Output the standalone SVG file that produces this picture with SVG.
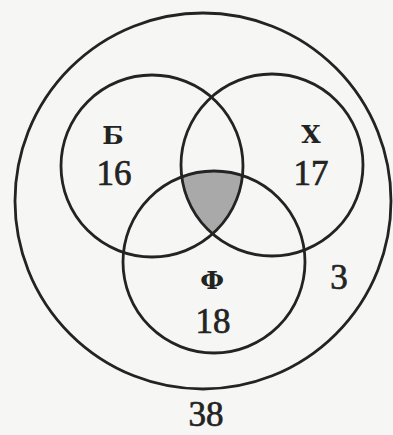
<svg xmlns="http://www.w3.org/2000/svg" width="393" height="435" viewBox="0 0 393 435">
<style>
.c{fill:none;stroke:#232323;stroke-width:2.8}
.d{font-family:"Liberation Serif","DejaVu Serif",serif;font-size:35px;fill:#232323;stroke:#232323;stroke-width:0.7;text-anchor:middle}
.l{font-family:"DejaVu Serif","Liberation Serif",serif;font-size:25px;font-weight:bold;fill:#232323;text-anchor:middle}
</style>
<defs>
<clipPath id="cB"><circle cx="152" cy="166" r="91"/></clipPath>
<clipPath id="cX"><circle cx="272" cy="165" r="91"/></clipPath>
</defs>
<rect width="393" height="435" fill="#f6f6f4"/>
<g id="shade" clip-path="url(#cB)"><g clip-path="url(#cX)"><circle cx="214" cy="262" r="91" fill="#a9a9a9"/></g></g>
<g id="universe"><circle class="c" cx="203" cy="201" r="188"/><text class="d" x="206" y="426">38</text><text class="d" x="339" y="289">3</text></g>
<g id="B"><circle class="c" cx="152" cy="166" r="91"/><text class="l" x="113" y="144">Б</text><text class="d" x="114" y="185">16</text></g>
<g id="X"><circle class="c" cx="272" cy="165" r="91"/><text class="l" x="311" y="143">Х</text><text class="d" x="311" y="185">17</text></g>
<g id="F"><circle class="c" cx="214" cy="262" r="91"/><text class="l" x="212" y="289">Ф</text><text class="d" x="213" y="333">18</text></g>
</svg>
